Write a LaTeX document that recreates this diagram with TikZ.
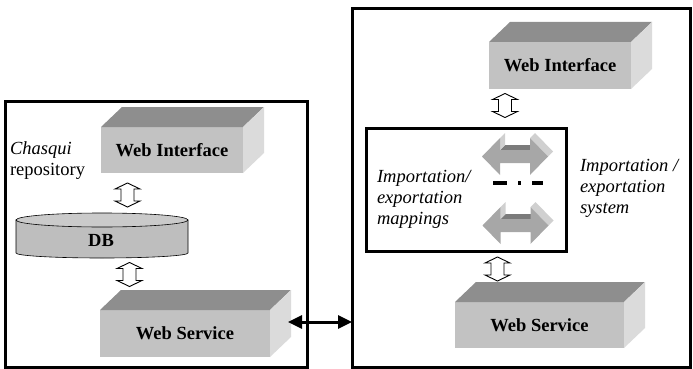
\documentclass[tikz,border=0pt]{standalone}
\usepackage{fontspec}
\setmainfont{Liberation Serif}
\usetikzlibrary{calc,arrows.meta}
\definecolor{frontgray}{HTML}{C2C2C2}
\definecolor{topgray}{HTML}{8E8E8E}
\definecolor{sidegray}{HTML}{DBDBDB}
\definecolor{arrowmid}{HTML}{A7A7A7}
\definecolor{arrowdark}{HTML}{7B7B7B}
\definecolor{arrowlight}{HTML}{D0D0D0}
\definecolor{dbbody}{HTML}{BEBEBE}
\definecolor{dbtop}{HTML}{CACACA}
\newcommand\boxfaces[1]{%
  \fill[topgray] (#1.north west) -- ++(21,-20) -- ($(#1.north east)+(21,-20)$) -- (#1.north east) -- cycle;
  \fill[sidegray] (#1.north east) -- ++(21,-20) -- ($(#1.south east)+(21,-20)$) -- (#1.south east) -- cycle;}
\begin{document}
\begin{tikzpicture}[x=1pt,y=-1pt,
  every node/.style={font=\fontsize{18.5}{21}\selectfont, inner sep=0pt, outer sep=0pt},
  front/.style={fill=frontgray, font=\fontsize{18.5}{21}\selectfont\bfseries},
  sysbox/.style={draw, line width=3pt},
  itext/.style={align=left, font=\fontsize{18.5}{21}\selectfont\itshape},
  hollowarrow/.pic={\draw[line width=0.9pt, fill=white] (0,-12) -- (12.5,-6) -- (6.5,-6) -- (6.5,6) -- (12.5,6) -- (0,12) -- (-12.5,6) -- (-6.5,6) -- (-6.5,-6) -- (-12.5,-6) -- cycle;},
  blockarrow/.pic={
    \fill[arrowdark] (-15,-6.5) -- (-10,-11.5) -- (20,-11.5) -- (15,-6.5) -- cycle;
    \fill[arrowlight] (-15,-18.5) -- (-10,-23.5) -- (-10,-11.5) -- (-15,-6.5) -- cycle;
    \fill[arrowlight] (15,-18.5) -- (20,-23.5) -- (38,-5) -- (33,0) -- cycle;
    \fill[arrowmid] (-33,0) -- (-15,-18.5) -- (-15,-6.5) -- (15,-6.5) -- (15,-18.5) -- (33,0) -- (15,18.5) -- (15,6.5) -- (-15,6.5) -- (-15,18.5) -- cycle;}
]
\useasboundingbox (0,0) rectangle (693,369);

% system boxes
\node[sysbox, minimum width=302, minimum height=266, anchor=north west] (leftsys) at (5,101) {};
\node[sysbox, minimum width=338, minimum height=358, anchor=north west] (rightsys) at (352,9) {};

% left repository
\node[front, minimum width=142, minimum height=46] (wiL) at (172,150) {Web Interface};
\boxfaces{wiL}
\fill[dbbody, draw=black, line width=0.6pt] (16,220) -- (16,253) arc (180:0:86 and 5) -- (188,220) -- cycle;
\fill[dbtop, draw=black, line width=0.6pt] (102,220) ellipse (86 and 7);
\node[font=\fontsize{18.5}{21}\selectfont\bfseries] (db) at (101,240) {DB};
\node[front, minimum width=170, minimum height=47] (wsL) at (185,333.5) {Web Service};
\boxfaces{wsL}
\coordinate (h1) at (127.5,195);
\coordinate (h2) at (129.5,274.5);
\pic at (h1) {hollowarrow};
\pic at (h2) {hollowarrow};
\node[itext, anchor=base west] (chasqui) at (10,175) {\textit{Chasqui}\\\upshape repository};

% right system
\node[front, minimum width=142, minimum height=47] (wiR) at (560,65.5) {Web Interface};
\boxfaces{wiR}
\node[sysbox, minimum width=200, minimum height=123, anchor=north west] (maps) at (366,128) {};
\coordinate (ba1) at (515,156.5);
\coordinate (ba2) at (515.5,225.5);
\pic at (ba1) {blockarrow};
\pic at (ba2) {blockarrow};
\coordinate (dd1) at (493,183);
\coordinate (dd2) at (543,183);
\draw[line width=3.5pt, dash pattern=on 14pt off 11pt on 3pt off 11pt on 11pt] (dd1) -- (dd2);
\node[front, minimum width=169, minimum height=46] (wsR) at (539.5,325) {Web Service};
\boxfaces{wsR}
\coordinate (h3) at (505,105.5);
\coordinate (h4) at (497.5,269);
\pic at (h3) {hollowarrow};
\pic at (h4) {hollowarrow};
\node[itext, anchor=base west] (mapl) at (377,224) {Importation/\\exportation\\mappings};
\node[itext, anchor=base west] (sysl) at (580,213) {Importation /\\exportation\\system};

% link between systems
\coordinate (lk1) at ($(wsL.east)+(18,-11.5)$);
\draw[line width=3pt, {Triangle[length=14pt,width=13pt]}-{Triangle[length=14pt,width=13pt]}] (lk1) -- (lk1 -| rightsys.west);
\end{tikzpicture}
\end{document}
